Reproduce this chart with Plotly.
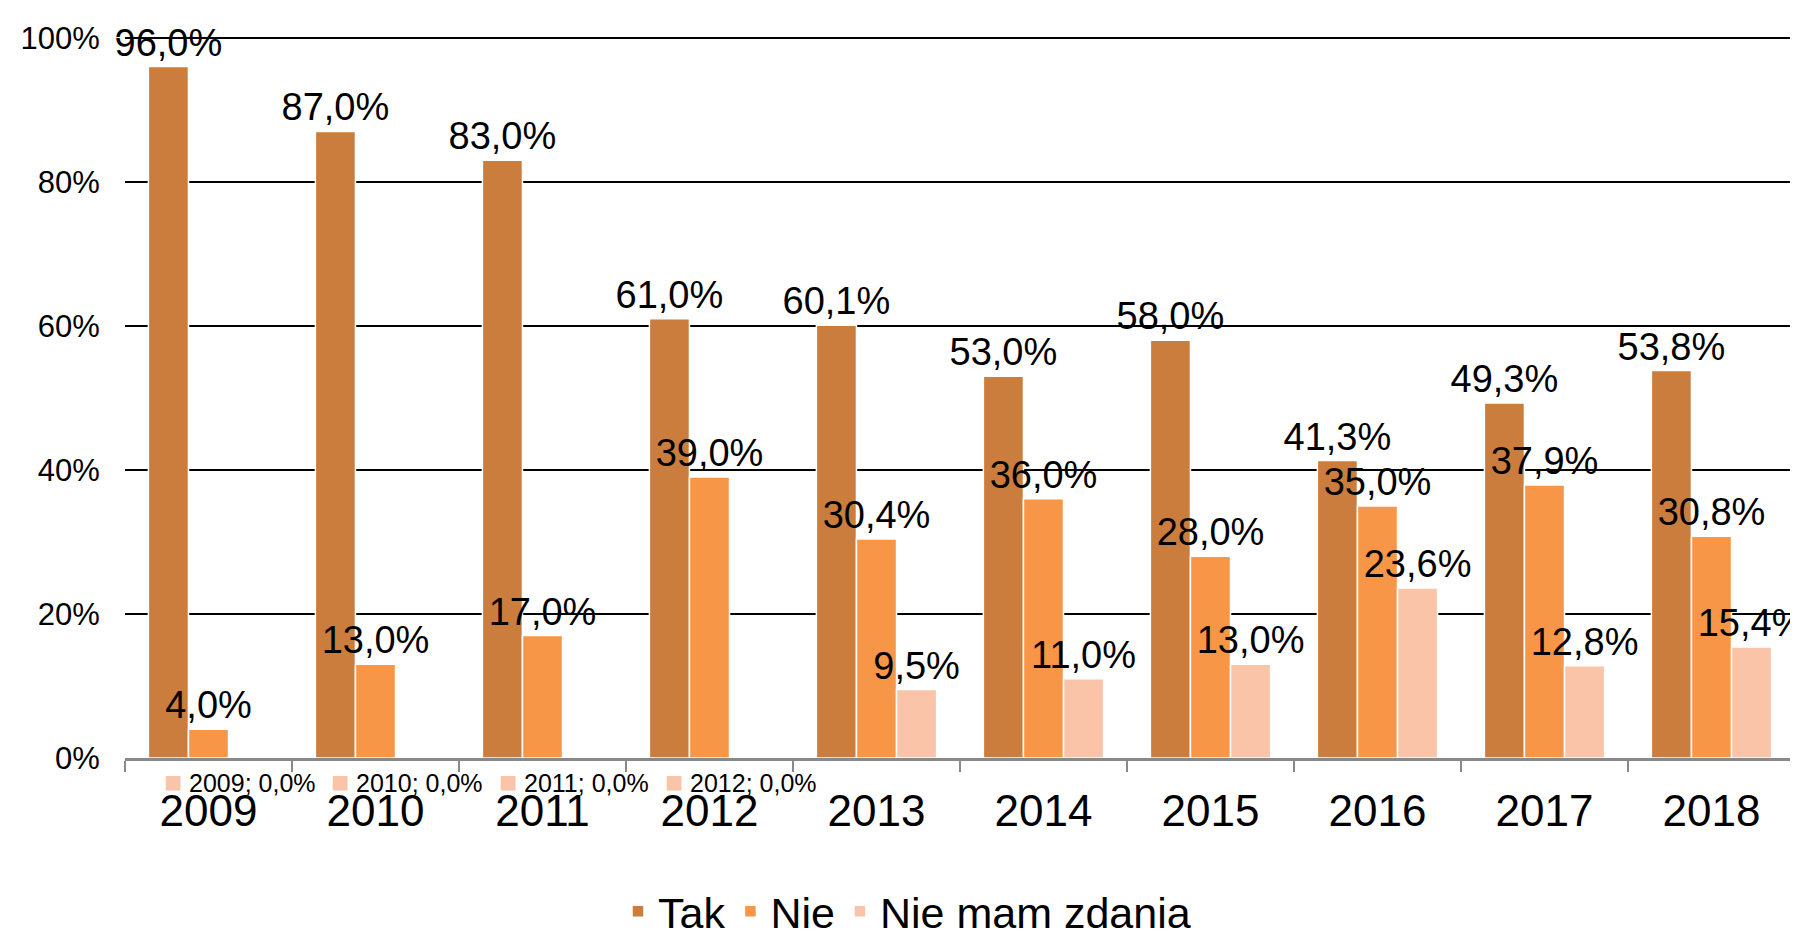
import plotly.graph_objects as go

years = ["2009", "2010", "2011", "2012", "2013", "2014", "2015", "2016", "2017", "2018"]
tak = [96.0, 87.0, 83.0, 61.0, 60.1, 53.0, 58.0, 41.3, 49.3, 53.8]
nie = [4.0, 13.0, 17.0, 39.0, 30.4, 36.0, 28.0, 35.0, 37.9, 30.8]
nmz = [0.0, 0.0, 0.0, 0.0, 9.5, 11.0, 13.0, 23.6, 12.8, 15.4]
series_names = ["Tak", "Nie", "Nie mam zdania"]
colors = ["#CA7D3C", "#F79646", "#F9C4A8"]
y_ticks = [0, 20, 40, 60, 80, 100]
y_ticktext = ["0%", "20%", "40%", "60%", "80%", "100%"]

FONT = "Liberation Sans"
NBSP = "\u00a0"

def fmt(v):
    return f"{v:.1f}".replace(".", ",") + "%"

fig = go.Figure()
all_series = [tak, nie, nmz]
for name, vals, col in zip(series_names, all_series, colors):
    fig.add_trace(go.Bar(
        x=years, y=vals, name=name,
        text=[fmt(v) if v > 0 else "" for v in vals],
        textposition="outside", constraintext="none", cliponaxis=False,
        textfont=dict(family=FONT, size=38, color="black"),
        marker=dict(color=col, line=dict(color="white", width=1.5)),
    ))

# invisible trace to carry the right-hand frame axis
fig.add_trace(go.Scatter(x=years, y=tak, yaxis="y2", mode="none",
                         showlegend=False, hoverinfo="skip"))

# category labels; zero-valued "Nie mam zdania" labels shown below the axis
x_ticktext = []
for yr, v in zip(years, nmz):
    if v > 0:
        first = NBSP
    else:
        first = (NBSP * 9 + f"<span style='color:{colors[2]};font-size:30px'>■</span> "
                 f"{yr}; {fmt(v)}")
    x_ticktext.append(f"<span style='font-size:25px'>{first}</span><br>"
                      f"<span style='font-size:44px'>{yr}</span>")

fig.update_layout(
    template="plotly_white",
    width=1798, height=936,
    margin=dict(l=117, r=11, t=28, b=186),
    paper_bgcolor="white", plot_bgcolor="white",
    barmode="group", bargap=0.28, bargroupgap=0,
    font=dict(family=FONT, color="black"),
    xaxis=dict(
        type="category", showline=True, linecolor="#898989", linewidth=3,
        ticks="outside", tickson="boundaries", ticklen=11, tickwidth=2, tickcolor="#898989",
        tickmode="array", tickvals=years, ticktext=x_ticktext, tickangle=0,
        tickfont=dict(family=FONT, size=26, color="black"),
        showgrid=False, layer="below traces", automargin=False,
    ),
    yaxis=dict(
        range=[0, 100.25], tickmode="array", tickvals=y_ticks, ticktext=y_ticktext,
        showgrid=True, gridcolor="black", gridwidth=1.5, zeroline=False,
        showline=False, ticks="outside", ticklen=18, tickcolor="white",
        tickfont=dict(family=FONT, size=31, color="black"), automargin=False,
    ),
    yaxis2=dict(
        overlaying="y", side="right", range=[0, 100.25],
        tickmode="array", tickvals=y_ticks,
        showticklabels=False, showgrid=False, zeroline=False,
        showline=True, linecolor="#999999", linewidth=2.5,
        ticks="outside", ticklen=11, tickwidth=2, tickcolor="#999999",
        automargin=False,
    ),
    legend=dict(
        orientation="h", xref="container", x=0.5, xanchor="center",
        yref="container", y=0.035, yanchor="middle",
        font=dict(family=FONT, size=43, color="black"),
    ),
)

fig.write_html("out.html")
